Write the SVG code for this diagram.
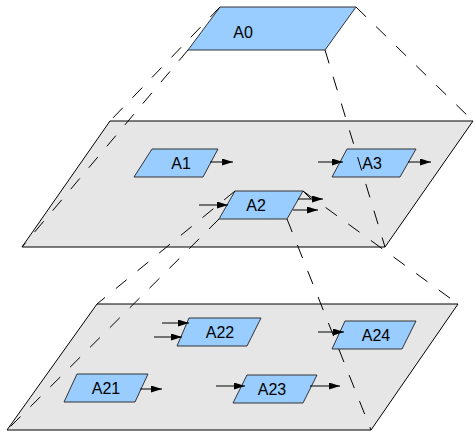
<svg xmlns="http://www.w3.org/2000/svg" width="475" height="433" viewBox="0 0 475 433">
<defs>
<marker id="ah" markerWidth="11" markerHeight="8" refX="11" refY="3.5" orient="auto" markerUnits="userSpaceOnUse">
<path d="M0,0 L11,3.5 L0,7 z" fill="#000"/>
</marker>
</defs>
<style>
.plane{fill:#e6e6e6;stroke:#000;stroke-width:1}
.box{fill:#99ccff;stroke:#333;stroke-width:1}
.lbl{font-family:"Liberation Sans",Arial,sans-serif;font-size:16px;fill:#000;text-anchor:middle}
.dash{fill:none;stroke:#000;stroke-width:1;stroke-dasharray:14,14}
.arr{fill:none;stroke:#000;stroke-width:1;marker-end:url(#ah)}
</style>
<rect width="475" height="433" fill="#fff"/>
<g id="plane1"><polygon class="plane" points="110,121 473,121 385,247 22,247"/></g>
<g id="plane2"><polygon class="plane" points="97,304 458,304 371,430 7,430"/></g>
<g id="A0"><polygon class="box" points="220,7 356,7 325,50 188,50"/><text class="lbl" x="243" y="38">A0</text></g>
<g id="A1"><polygon class="box" points="152,149 218,149 203,177 134,177"/><text class="lbl" x="181" y="169">A1</text></g>
<g id="A3"><polygon class="box" points="347,149 416,149 400,177 332,177"/><text class="lbl" x="372" y="169">A3</text></g>
<g id="A2"><polygon class="box" points="235,191 303,191 287,219 219,219"/><text class="lbl" x="256" y="211">A2</text></g>
<g id="A22"><polygon class="box" points="189,318 261,318 247,346 177,346"/><text class="lbl" x="220" y="338">A22</text></g>
<g id="A24"><polygon class="box" points="345,321 416,321 402,349 332,349"/><text class="lbl" x="376" y="341">A24</text></g>
<g id="A21"><polygon class="box" points="77,374 148,374 135,402 64,402"/><text class="lbl" x="106" y="394">A21</text></g>
<g id="A23"><polygon class="box" points="247,375 317,375 303,403 233,403"/><text class="lbl" x="272" y="395">A23</text></g>
<g id="connectors">
<line class="arr" x1="210" y1="162" x2="233" y2="162"/>
<line class="arr" x1="318" y1="162" x2="343" y2="162"/>
<line class="arr" x1="408" y1="162" x2="431" y2="162"/>
<line class="arr" x1="199" y1="205" x2="228" y2="205"/>
<line class="arr" x1="298" y1="199" x2="323" y2="199"/>
<line fill="none" stroke="#000" stroke-width="1" x1="303" y1="191" x2="311" y2="199"/>
<line class="arr" x1="293" y1="210" x2="318" y2="210"/>
<line class="arr" x1="162" y1="323" x2="189" y2="323"/>
<line class="arr" x1="154" y1="337" x2="182" y2="337"/>
<line class="arr" x1="318" y1="332" x2="344" y2="332"/>
<line class="arr" x1="140" y1="389" x2="162" y2="389"/>
<line class="arr" x1="216" y1="386" x2="245" y2="386"/>
<line class="arr" x1="310" y1="386" x2="340" y2="386"/>
<line class="dash" x1="220" y1="7" x2="110" y2="121"/>
<line class="dash" x1="188" y1="50" x2="22" y2="247"/>
<line class="dash" x1="356" y1="7" x2="473" y2="121"/>
<line class="dash" x1="325" y1="50" x2="385" y2="247"/>
<line class="dash" x1="235" y1="191" x2="97" y2="304"/>
<line class="dash" x1="219" y1="219" x2="7" y2="430"/>
<line class="dash" x1="303" y1="191" x2="458" y2="304"/>
<line class="dash" x1="287" y1="219" x2="371" y2="430"/>
</g>
</svg>
